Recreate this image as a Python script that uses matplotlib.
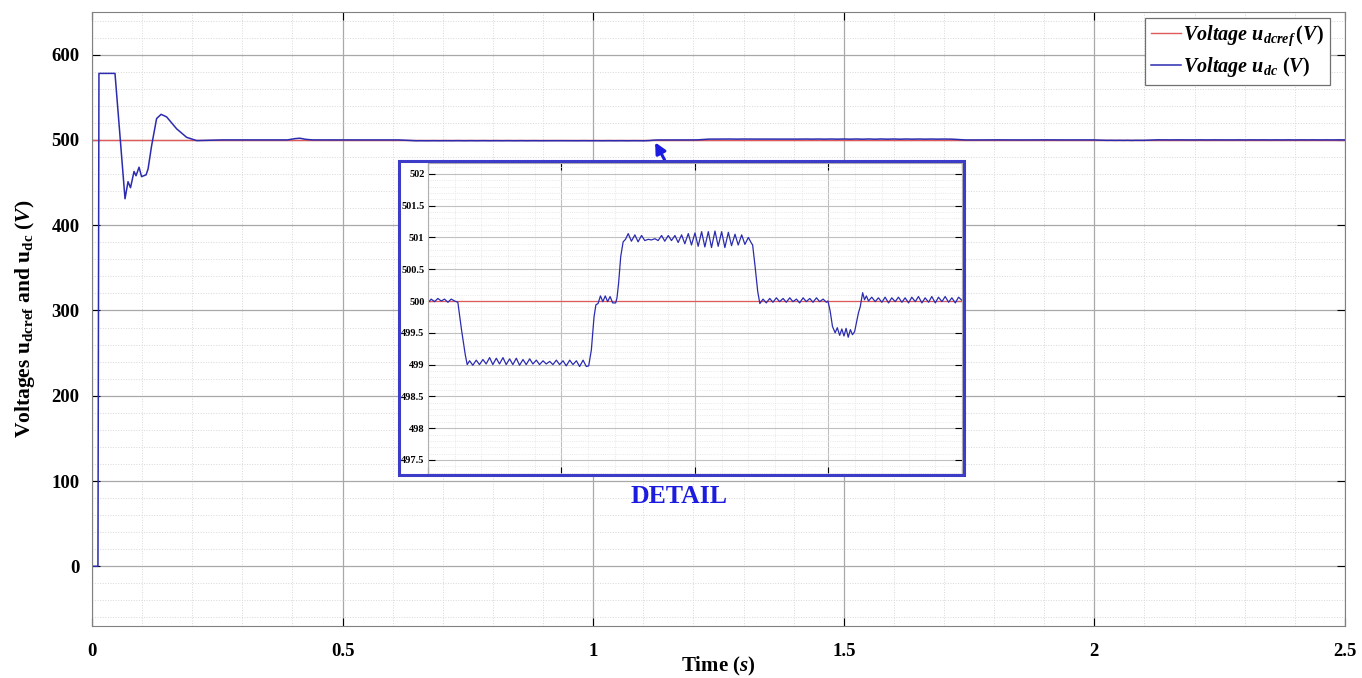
import matplotlib
matplotlib.use("Agg")
import matplotlib.pyplot as plt
from matplotlib.patches import Rectangle
from matplotlib.ticker import MultipleLocator, FormatStrFormatter

plt.rcParams['font.family'] = ['Liberation Serif', 'DejaVu Serif']
plt.rcParams['font.weight'] = 'bold'
plt.rcParams['axes.labelweight'] = 'bold'
plt.rcParams['mathtext.fontset'] = 'custom'
plt.rcParams['mathtext.rm'] = 'Liberation Serif:bold'
plt.rcParams['mathtext.bf'] = 'Liberation Serif:bold'
plt.rcParams['mathtext.it'] = 'Liberation Serif:bold:italic'

# dc-link voltage, start-up transient (s, V)
t_start = [0, 0.012, 0.014, 0.046, 0.066, 0.072, 0.077, 0.084, 0.088, 0.094, 0.099,
           0.108, 0.112, 0.119, 0.129, 0.138, 0.149, 0.169, 0.189, 0.209, 0.235,
           0.26, 0.39, 0.405, 0.415, 0.425, 0.44, 0.48]
u_start = [0, 0, 578, 578, 431, 451, 444, 463, 458, 468, 457,
           459, 466, 493, 525, 530, 527, 513, 503, 499.2, 499.6,
           500, 500, 501.5, 502, 500.8, 500, 500]

# load steps, 0.5 s .. 2.5 s
t_steps = [0.500, 0.512, 0.525, 0.537, 0.550, 0.562, 0.575, 0.587, 0.600, 0.612,
           0.626, 0.640, 0.647,
           0.656, 0.668, 0.681, 0.693, 0.706, 0.718, 0.731, 0.743, 0.756, 0.768,
           0.781, 0.793, 0.806, 0.818, 0.831, 0.843, 0.856, 0.868, 0.881, 0.893,
           0.906, 0.918, 0.931, 0.943, 0.956, 0.968, 0.981, 0.993, 1.006, 1.018,
           1.031, 1.043, 1.056, 1.068, 1.081, 1.093,
           1.102, 1.112, 1.122, 1.129,
           1.137, 1.146, 1.155, 1.164, 1.173, 1.182, 1.192, 1.203, 1.208,
           1.214, 1.222, 1.231,
           1.240, 1.250, 1.262, 1.275, 1.287, 1.300, 1.312, 1.325, 1.337, 1.350,
           1.362, 1.375, 1.387, 1.400, 1.412, 1.425, 1.437, 1.450, 1.462, 1.475,
           1.487, 1.500, 1.512, 1.525, 1.537, 1.550, 1.562, 1.575, 1.587, 1.600,
           1.612, 1.625, 1.637, 1.650, 1.662, 1.675, 1.687, 1.700, 1.710,
           1.716, 1.725, 1.735, 1.743,
           1.755, 1.767, 1.780, 1.792, 1.805, 1.817, 1.830, 1.842, 1.855, 1.867,
           1.880, 1.892, 1.905, 1.917, 1.930, 1.942, 1.955, 1.967, 1.980, 1.992, 1.998,
           2.006, 2.015, 2.025, 2.033, 2.042, 2.050, 2.058, 2.066, 2.074, 2.082,
           2.090, 2.098,
           2.112, 2.119, 2.128, 2.135, 2.142,
           2.150, 2.162, 2.175, 2.187, 2.200, 2.212, 2.225, 2.237, 2.250, 2.262,
           2.275, 2.287, 2.300, 2.312, 2.325, 2.337, 2.350, 2.362, 2.375, 2.387,
           2.400, 2.412, 2.425, 2.437, 2.450, 2.462, 2.475, 2.487, 2.500]
u_steps = [499.97, 500.03, 499.99, 500.04, 500.00, 500.03, 499.98, 500.03, 500.00, 499.98,
           499.54, 499.15, 499.00,
           499.06, 498.99, 499.07, 499.00, 499.08, 499.01, 499.11, 499.00, 499.10, 499.01,
           499.11, 499.00, 499.09, 499.00, 499.10, 498.99, 499.08, 499.00, 499.09, 499.01,
           499.07, 499.00, 499.06, 499.01, 499.05, 499.00, 499.07, 499.00, 499.06, 498.98,
           499.07, 499.00, 499.06, 498.97, 499.07, 498.97,
           498.98, 499.23, 499.75, 499.94,
           499.96, 500.08, 499.99, 500.08, 499.99, 500.07, 499.97, 499.97, 500.05,
           500.28, 500.70, 500.93,
           500.97, 501.06, 500.94, 501.04, 500.93, 501.03, 500.95, 500.97, 500.96, 500.98,
           500.95, 501.03, 500.94, 501.03, 500.95, 501.03, 500.92, 501.04, 500.90, 501.06,
           500.88, 501.07, 500.86, 501.09, 500.85, 501.09, 500.84, 501.10, 500.86, 501.09,
           500.84, 501.08, 500.87, 501.05, 500.88, 501.04, 500.89, 501.00, 500.92,
           500.88, 500.55, 500.15, 499.96,
           500.03, 499.97, 500.04, 499.98, 500.05, 499.99, 500.04, 499.98, 500.05, 499.99,
           500.03, 499.97, 500.05, 499.99, 500.04, 499.98, 500.05, 499.99, 500.03, 499.98, 500.00,
           499.85, 499.60, 499.50, 499.58, 499.46, 499.56, 499.45, 499.57, 499.43, 499.55,
           499.47, 499.52,
           499.81, 499.91, 500.13, 500.02, 500.08,
           500.00, 500.06, 499.99, 500.05, 499.98, 500.06, 499.97, 500.05, 499.99, 500.06,
           499.98, 500.05, 499.97, 500.06, 499.99, 500.07, 499.97, 500.05, 499.98, 500.07,
           499.97, 500.06, 499.99, 500.07, 499.98, 500.05, 499.97, 500.06, 500.01]

t_dc = t_start + t_steps
u_dc = u_start + u_steps

t_ref = [0, 2.5]
u_ref = [500, 500]

RED = '#e05a5a'
BLUE = '#2b2bb0'
FRAME = '#3c3cc8'

fig = plt.figure(figsize=(13.62, 6.78), dpi=100)
ax = fig.add_axes([0.0675, 0.0767, 0.92, 0.9056])

ax.plot(t_ref, u_ref, color=RED, lw=1.0, label=r'$Voltage\ u_{dcref}\,(V)$')
ax.plot(t_dc, u_dc, color=BLUE, lw=1.1, label=r'$Voltage\ u_{dc}\ (V)$')

ax.set_xlim(0, 2.5)
ax.set_ylim(-70, 650)
ax.xaxis.set_major_locator(MultipleLocator(0.5))
ax.xaxis.set_minor_locator(MultipleLocator(0.1))
ax.yaxis.set_major_locator(MultipleLocator(100))
ax.yaxis.set_minor_locator(MultipleLocator(20))
ax.xaxis.set_major_formatter(FormatStrFormatter('%g'))
ax.grid(which='major', color='#a8a8a8', lw=0.9)
ax.grid(which='minor', color='#d8d8d8', lw=0.7, ls=':')
ax.tick_params(which='both', direction='in', top=True, right=True, labelsize=13.5)
ax.tick_params(which='major', length=6)
ax.tick_params(axis='x', which='major', pad=12)
ax.tick_params(axis='y', which='major', pad=9)
ax.tick_params(which='minor', length=0)
for s in ax.spines.values():
    s.set_color('#808080')

ax.set_xlabel(r'Time ($\mathit{s}$)', fontsize=15)
ax.xaxis.set_label_coords(0.5, -0.047)
ax.set_ylabel(r'Voltages u$_{\mathbf{dcref}}$ and u$_{\mathbf{dc}}$ ($\mathit{V}$)',
              fontsize=15.5)
ax.yaxis.set_label_coords(-0.044, 0.5)

leg = ax.legend(loc='upper right', fontsize=14.5, handlelength=1.5, handletextpad=0.1,
                borderpad=0.3, labelspacing=0.35, fancybox=False, framealpha=1,
                edgecolor='#707070', borderaxespad=0, bbox_to_anchor=(0.988, 0.991))
leg.get_frame().set_linewidth(0.9)

# arrow from the detail box up to the trace
ax.annotate('', xy=(1.121, 500), xytext=(1.145, 474),
            arrowprops=dict(arrowstyle='-|>', color='#1c1ce0', lw=2.2, mutation_scale=16))

# detail box
ax.add_patch(Rectangle((0.2930, 0.2995), 0.4148, 0.4627, transform=fig.transFigure,
                       facecolor='white', edgecolor='none', zorder=5, clip_on=False))
fig.add_artist(Rectangle((0.2930, 0.2995), 0.4148, 0.4627, transform=fig.transFigure,
                         facecolor='none', edgecolor=FRAME, lw=2.2, zorder=10))

axi = fig.add_axes([0.3142, 0.3009, 0.3921, 0.4587])
axi.plot(t_ref, u_ref, color=RED, lw=0.9)
axi.plot(t_dc, u_dc, color=BLUE, lw=0.9)
axi.set_xlim(0.5, 2.5)
axi.set_ylim(497.28, 502.17)
axi.xaxis.set_major_locator(MultipleLocator(0.5))
axi.xaxis.set_minor_locator(MultipleLocator(0.1))
axi.yaxis.set_major_locator(MultipleLocator(0.5))
axi.yaxis.set_minor_locator(MultipleLocator(0.1))
axi.yaxis.set_major_formatter(FormatStrFormatter('%g'))
axi.set_xticklabels([])
axi.grid(which='major', color='#c0c0c0', lw=0.8)
axi.grid(which='minor', color='#e2e2e2', lw=0.6, ls=':')
axi.tick_params(which='both', direction='in', right=True, top=True, labelsize=7.5, pad=2.5)
axi.tick_params(which='major', length=5)
axi.tick_params(which='minor', length=0)
for s in axi.spines.values():
    s.set_color('#b0b0b0')

fig.text(0.4985, 0.268, 'DETAIL', color='#1c1ce0', fontsize=18.5, fontweight='bold',
         ha='center', va='center')

fig.savefig('out.png', dpi=100)
